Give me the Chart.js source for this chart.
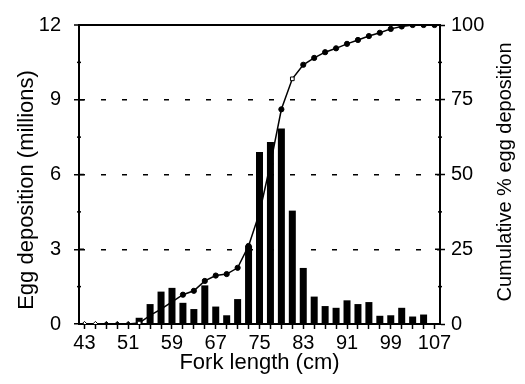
<!DOCTYPE html>
<html>
<head>
<meta charset="utf-8">
<script src="https://cdn.jsdelivr.net/npm/chart.js@4.4.1/dist/chart.umd.min.js"></script>
<style>
  html, body { margin: 0; padding: 0; background: #fff; }
  #wrap { width: 525px; height: 384px; position: relative; }
</style>
</head>
<body>
<div id="wrap"><canvas id="eggChart"></canvas></div>
<script>
// fork length classes (cm), 2 cm wide
const forkLengths = [43, 45, 47, 49, 51, 53, 55, 57, 59, 61, 63, 65, 67, 69, 71, 73, 75,
                     77, 79, 81, 83, 85, 87, 89, 91, 93, 95, 97, 99, 101, 103, 105, 107];

// egg deposition per class (millions)
const eggDeposition = [0, 0, 0, 0, 0, 0.25, 0.8, 1.3, 1.45, 0.85, 0.6, 1.55, 0.7, 0.35, 1.0, 3.15, 6.9,
                       7.3, 7.85, 4.55, 2.25, 1.1, 0.72, 0.65, 0.95, 0.8, 0.88, 0.33, 0.35, 0.65, 0.3, 0.38, 0];

// cumulative egg deposition (%)
const cumulativePct = [0, 0, 0, 0, 0, 0.3, 2.9, 5.0, 7.4, 9.8, 11.1, 14.4, 16.2, 16.7, 18.8, 26.1, 37.2,
                       53.5, 71.8, 82.0, 86.7, 89.0, 90.9, 92.2, 93.7, 95.0, 96.3, 97.4, 98.7, 99.5, 100, 100, 100];

const eggTicks = [0, 3, 6, 9, 12];
const pctTicks = [0, 25, 50, 75, 100];
const labelEvery = 4;

const FONT = "'Liberation Sans', Arial, sans-serif";
const tickFont = { family: FONT, size: 20 };

// first few classes use diamonds, a couple of hollow markers further up
const pointStyles = forkLengths.map((v, i) => (i < 5 ? 'rectRot' : (i === 5 || i === 19 ? 'rect' : 'circle')));
const pointFills = forkLengths.map((v, i) => (i < 2 || i === 5 || i === 19 ? '#fff' : '#000'));

// extra tick marks and the two vertical titles
const axisExtras = {
  id: 'axisExtras',
  afterDraw(chart) {
    const { ctx, chartArea } = chart;
    ctx.save();
    ctx.strokeStyle = '#000';
    ctx.lineWidth = 1.5;
    const marks = (scale, values, edge, dir) => {
      values.forEach((v, i) => {
        const py = scale.getPixelForValue(v);
        ctx.beginPath();
        ctx.moveTo(edge, py);
        ctx.lineTo(edge + dir * 5, py);
        ctx.stroke();
        if (i < values.length - 1) {
          const my = scale.getPixelForValue((v + values[i + 1]) / 2);
          ctx.beginPath();
          ctx.moveTo(edge - 2, my);
          ctx.lineTo(edge + 2, my);
          ctx.stroke();
        }
      });
    };
    marks(chart.scales.y, eggTicks, chartArea.left, 1);
    marks(chart.scales.y2, pctTicks, chartArea.right, -1);

    ctx.fillStyle = '#000';
    ctx.textAlign = 'center';
    ctx.textBaseline = 'middle';
    [['Egg deposition (millions)', 27, 190, 22], ['Cumulative % egg deposition', 505, 172, 20]].forEach(([txt, x, y, size]) => {
      ctx.save();
      ctx.font = size + 'px ' + FONT;
      ctx.translate(x, y);
      ctx.rotate(-Math.PI / 2);
      ctx.fillText(txt, 0, 0);
      ctx.restore();
    });
    ctx.restore();
  }
};

new Chart(document.getElementById('eggChart'), {
  type: 'bar',
  data: {
    labels: forkLengths,
    datasets: [
      {
        type: 'line',
        data: cumulativePct,
        yAxisID: 'y2',
        order: 0,
        borderColor: '#000',
        borderWidth: 1.5,
        tension: 0,
        pointStyle: pointStyles,
        pointRadius: 2.6,
        pointBackgroundColor: pointFills,
        pointBorderColor: '#000',
        pointBorderWidth: 1
      },
      {
        type: 'bar',
        data: eggDeposition,
        yAxisID: 'y',
        order: 1,
        backgroundColor: '#000',
        barPercentage: 0.64,
        categoryPercentage: 1
      }
    ]
  },
  options: {
    responsive: true,
    maintainAspectRatio: false,
    animation: false,
    layout: { padding: { top: 19, left: 0, right: 0, bottom: 0 } },
    plugins: { legend: { display: false }, tooltip: { enabled: false } },
    scales: {
      x: {
        type: 'category',
        offset: true,
        grid: { drawOnChartArea: false, offset: false, tickLength: 5, tickColor: '#000', tickWidth: 1.5 },
        border: { color: '#000', width: 2 },
        ticks: {
          autoSkip: false,
          maxRotation: 0,
          padding: 2,
          color: '#000',
          font: tickFont,
          callback: (val, i) => (i % labelEvery === 0 ? forkLengths[i] : '')
        },
        title: {
          display: true,
          text: 'Fork length (cm)',
          color: '#000',
          font: { family: FONT, size: 22 },
          padding: { top: 0, bottom: 8 }
        },
        afterFit: s => { s.height = 60; }
      },
      y: {
        position: 'left',
        min: 0,
        max: 12,
        afterBuildTicks: s => { s.ticks = eggTicks.map(v => ({ value: v })); },
        ticks: { padding: 13, color: '#000', font: tickFont },
        grid: {
          color: c => (c.tick && c.tick.value > 0 ? '#000' : 'rgba(0,0,0,0)'),
          lineWidth: c => (c.tick && c.tick.value === 12 ? 2 : 1.5),
          tickLength: 5,
          tickColor: '#000',
          tickWidth: 1.5
        },
        border: {
          color: '#000',
          width: 2,
          dash: c => (c.tick && c.tick.value < 12 ? [5, 16] : [])
        },
        afterFit: s => { s.width = 79; }
      },
      y2: {
        position: 'right',
        min: 0,
        max: 100,
        afterBuildTicks: s => { s.ticks = pctTicks.map(v => ({ value: v })); },
        ticks: { padding: 6, color: '#000', font: tickFont },
        grid: { drawOnChartArea: false, tickLength: 5, tickColor: '#000', tickWidth: 1.5 },
        border: { color: '#000', width: 2 },
        afterFit: s => { s.width = 85; }
      }
    }
  },
  plugins: [axisExtras]
});
</script>
</body>
</html>
